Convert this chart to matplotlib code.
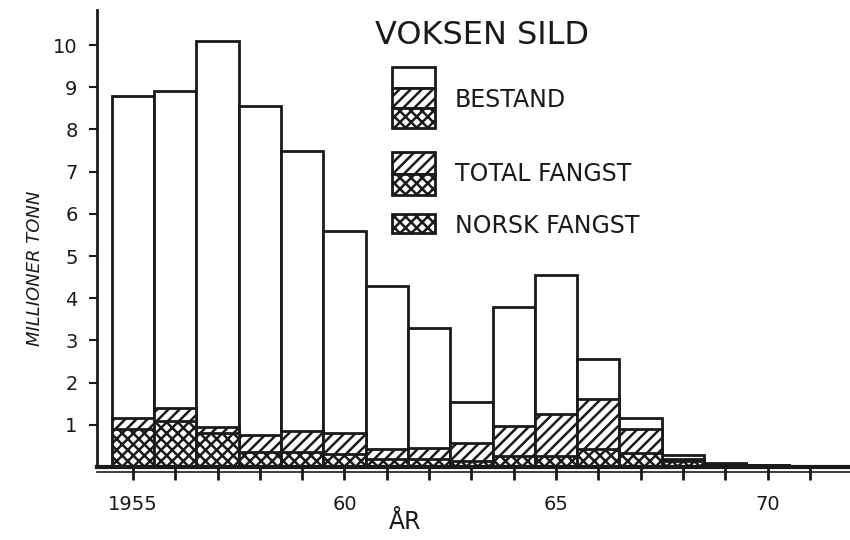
import matplotlib
matplotlib.use("Agg")
import matplotlib.pyplot as plt
from matplotlib.patches import Rectangle

years = [1955, 1956, 1957, 1958, 1959, 1960, 1961, 1962, 1963,
         1964, 1965, 1966, 1967, 1968, 1969, 1970, 1971]
bestand = [8.8, 8.9, 10.1, 8.55, 7.5, 5.6, 4.3, 3.3, 1.55,
           3.8, 4.55, 2.55, 1.15, 0.29, 0.1, 0.05, 0.03]
total_fangst = [1.15, 1.4, 0.95, 0.76, 0.85, 0.8, 0.43, 0.46, 0.58,
                0.98, 1.26, 1.6, 0.9, 0.2, 0.08, 0.04, 0.02]
norsk_fangst = [0.9, 1.1, 0.8, 0.35, 0.35, 0.3, 0.2, 0.2, 0.15,
                0.27, 0.27, 0.43, 0.33, 0.15, 0.06, 0.03, 0.01]
major_ticks = [1955, 1960, 1965, 1970]
major_labels = ["1955", "60", "65", "70"]
y_ticks = [1, 2, 3, 4, 5, 6, 7, 8, 9, 10]

plt.rcParams['hatch.linewidth'] = 1.8
plt.rcParams['font.family'] = ['DejaVu Sans']

INK = '#1a1a1a'
W, H = 850, 540
fig = plt.figure(figsize=(8.5, 5.4), dpi=100)
fig.patch.set_facecolor('white')

def fx(px):
    return px / W

def fy(py):
    return 1 - py / H

ax = fig.add_axes([fx(97), fy(467), fx(850) - fx(97), fy(10) - fy(467)])
ax.set_xlim(1954.15, 1971.95)
ax.set_ylim(0, 10.83)

ax.bar(years, bestand, width=1.0, facecolor='white', edgecolor=INK, linewidth=2)
ax.bar(years, total_fangst, width=1.0, facecolor='white', edgecolor=INK,
       linewidth=2, hatch='///')
ax.bar(years, norsk_fangst, width=1.0, facecolor='white', edgecolor=INK,
       linewidth=2, hatch='xxx')

for s in ['top', 'right']:
    ax.spines[s].set_visible(False)
ax.spines['left'].set_linewidth(2)
ax.spines['bottom'].set_linewidth(3)
ax.spines['left'].set_color(INK)
ax.spines['bottom'].set_color(INK)
ax.plot([1954.15, 1971.95], [-0.12, -0.12], color=INK, lw=1.2, clip_on=False)

ax.set_xticks(major_ticks)
ax.set_xticklabels(major_labels, fontsize=14)
ax.set_xticks(years, minor=True)
ax.tick_params(axis='x', which='both', direction='out', length=9, width=2,
               pad=11, colors=INK)
ax.set_yticks(y_ticks)
ax.set_yticklabels([str(v) for v in y_ticks], fontsize=14)
ax.tick_params(axis='y', direction='out', length=6, width=1.5, pad=8, colors=INK)

fig.text(fx(35), fy(268), "MILLIONER TONN", rotation=90, ha='center', va='center',
         fontsize=13, style='italic', color=INK)
fig.text(fx(405), fy(522), "ÅR", ha='center', va='center', fontsize=17, color=INK)
fig.text(fx(482), fy(35), "VOKSEN SILD", ha='center', va='center', fontsize=23,
         color=INK)

def box(x0, y0, x1, y1, hatch=None):
    r = Rectangle((fx(x0), fy(y1)), fx(x1) - fx(x0), fy(y0) - fy(y1),
                  transform=fig.transFigure, facecolor='white', edgecolor=INK,
                  linewidth=2, hatch=hatch)
    fig.patches.append(r)

box(392, 67, 435, 88)
box(392, 88, 435, 108, '///')
box(392, 108, 435, 128, 'xxx')
box(392, 152, 435, 174, '///')
box(392, 174, 435, 195, 'xxx')
box(392, 214, 435, 233, 'xxx')

fig.text(fx(455), fy(100), "BESTAND", ha='left', va='center', fontsize=17, color=INK)
fig.text(fx(455), fy(174), "TOTAL FANGST", ha='left', va='center', fontsize=17, color=INK)
fig.text(fx(455), fy(226), "NORSK FANGST", ha='left', va='center', fontsize=17, color=INK)

fig.savefig("out.png", dpi=100, facecolor='white')
